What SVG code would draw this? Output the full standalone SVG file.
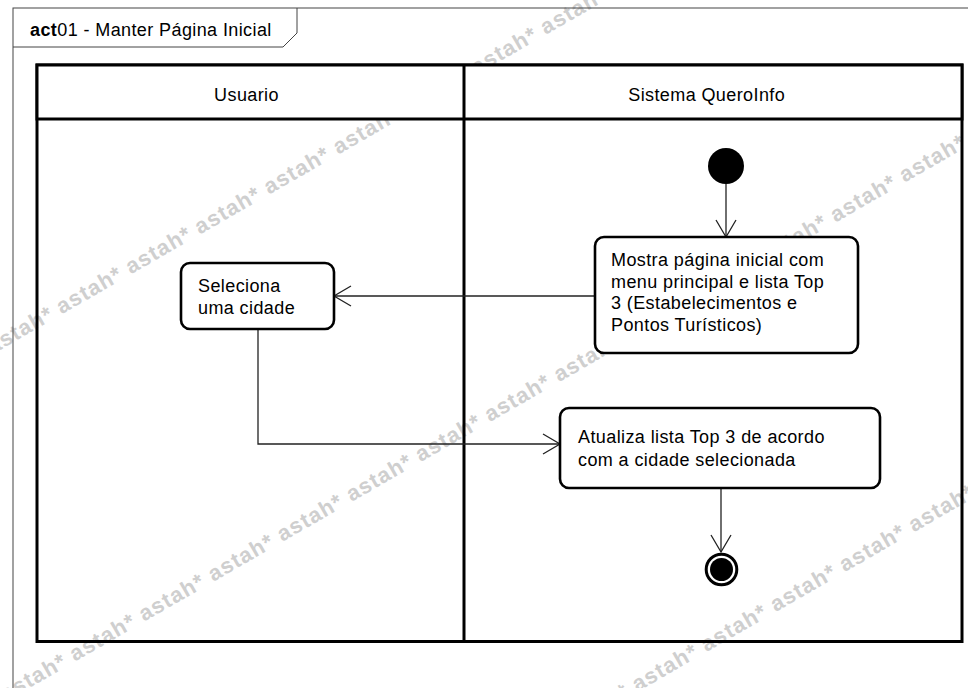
<svg xmlns="http://www.w3.org/2000/svg" width="968" height="688" viewBox="0 0 968 688">
<defs>
<style>
.t{font-family:"Liberation Sans",Arial,sans-serif;font-size:18px;fill:#000;letter-spacing:0.4px}
.b{font-weight:bold}
.wm{font-family:"Liberation Sans",Arial,sans-serif;font-size:22px;font-weight:bold;fill:#cfcfcf;letter-spacing:1.1px}
.lane{fill:none;stroke:#000;stroke-width:3}
.hdr{fill:#fff;stroke:#000;stroke-width:3}
.act{fill:#fff;stroke:#000;stroke-width:2.6}
.con{fill:none;stroke:#222;stroke-width:1.3}
.frame{fill:none;stroke:#444;stroke-width:1}
</style>
<marker id="arr" markerUnits="userSpaceOnUse" viewBox="-19 -12 21 24" refX="0" refY="0" markerWidth="21" markerHeight="24" orient="auto">
<path d="M-17,-10 L0,0 L-17,10" fill="none" stroke="#222" stroke-width="1.3"/>
</marker>
</defs>
<rect x="0" y="0" width="968" height="688" fill="#fff"/>
<g id="watermarks">
<text class="wm" transform="translate(-7.6,354.4) rotate(-30)">astah* astah* astah* astah* astah* astah* astah* astah* astah* astah*</text>
<text class="wm" transform="translate(5.7,701.7) rotate(-30)">astah* astah* astah* astah* astah* astah* astah* astah* astah* astah* astah* astah* astah* astah* astah*</text>
<text class="wm" transform="translate(568,732) rotate(-30)">astah* astah* astah* astah* astah* astah* astah*</text>
</g>
<g id="frame">
<rect class="frame" x="13" y="8" width="1000" height="720"/>
<path class="frame" d="M13,47 L283,47 L297,33 L297,8"/>
<text class="t" x="30" y="36"><tspan class="b">act</tspan>01 - Manter Página Inicial</text>
</g>
<g id="lanes">
<rect class="lane" x="37" y="65" width="925" height="576.5"/>
<rect class="hdr" x="37" y="65" width="925" height="54"/>
<line x1="464" y1="65" x2="464" y2="641.5" stroke="#000" stroke-width="3"/>
<text class="t" x="246.5" y="101" text-anchor="middle">Usuario</text>
<text class="t" x="706.7" y="101" text-anchor="middle">Sistema QueroInfo</text>
</g>
<g id="connectors">
<line class="con" x1="726" y1="184" x2="726" y2="237" marker-end="url(#arr)"/>
<line class="con" x1="595" y1="296" x2="334" y2="296" marker-end="url(#arr)"/>
<polyline class="con" points="258,329 258,444 560,444" marker-end="url(#arr)"/>
<line class="con" x1="721" y1="488" x2="721" y2="552" marker-end="url(#arr)"/>
</g>
<g id="initial">
<circle cx="726" cy="166" r="18" fill="#000"/>
</g>
<g id="mostra">
<rect class="act" x="595" y="237" width="263" height="116" rx="9"/>
<text class="t" x="611" y="266">Mostra página inicial com</text>
<text class="t" x="611" y="287.5">menu principal e lista Top</text>
<text class="t" x="611" y="309">3 (Estabelecimentos e</text>
<text class="t" x="611" y="330.5">Pontos Turísticos)</text>
</g>
<g id="seleciona">
<rect class="act" x="181" y="263" width="153" height="66" rx="9"/>
<text class="t" x="198" y="292">Seleciona</text>
<text class="t" x="198" y="314">uma cidade</text>
</g>
<g id="atualiza">
<rect class="act" x="560" y="408" width="320" height="80" rx="9"/>
<text class="t" x="578" y="443">Atualiza lista Top 3 de acordo</text>
<text class="t" x="578" y="465.5">com a cidade selecionada</text>
</g>
<g id="final">
<circle cx="721.5" cy="569.5" r="15.3" fill="#fff" stroke="#000" stroke-width="3"/>
<circle cx="721.5" cy="569.5" r="11.5" fill="#000"/>
</g>
</svg>
